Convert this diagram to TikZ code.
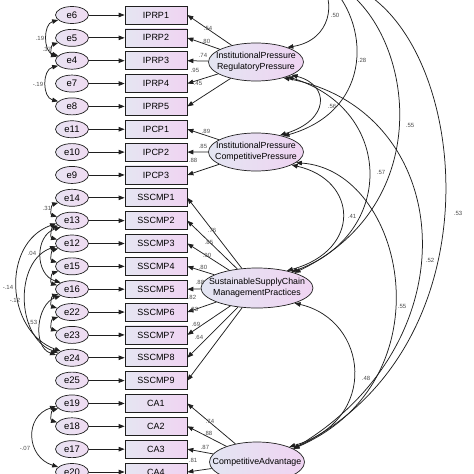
\documentclass[tikz,border=0pt]{standalone}
\usepackage{fontspec}
\setmainfont{Liberation Sans}
\usetikzlibrary{shapes.geometric,arrows.meta}
\definecolor{boxL}{rgb}{0.90,0.90,0.95}
\definecolor{boxR}{rgb}{0.94,0.83,0.95}
\definecolor{errL}{rgb}{0.91,0.89,0.95}
\definecolor{errR}{rgb}{0.94,0.86,0.95}
\definecolor{latL}{rgb}{0.89,0.90,0.95}
\definecolor{latR}{rgb}{0.94,0.83,0.95}
\definecolor{ln}{rgb}{0.12,0.12,0.12}
\definecolor{lab}{rgb}{0.30,0.30,0.30}
\tikzset{
  err/.style={ellipse, draw=ln, line width=0.7pt, minimum width=33pt, minimum height=17pt, inner sep=0pt, left color=errL, right color=errR, font=\fontsize{9.5}{10}\selectfont},
  obs/.style={rectangle, draw=ln, line width=0.7pt, minimum width=62pt, minimum height=18pt, inner sep=0pt, left color=boxL, right color=boxR, font=\fontsize{9}{10}\selectfont},
  lat/.style={ellipse, draw=ln, line width=0.7pt, inner sep=0pt, left color=latL, right color=latR},
  lattext/.style={align=center, inner sep=0pt, font=\fontsize{8.8}{11}\selectfont},
  lbl/.style={inner sep=0pt, text=lab, font=\fontsize{6}{7}\selectfont},
  arr/.style={draw=ln, line width=0.75pt, -{Triangle[length=6pt,width=4.5pt]}},
  cov/.style={draw=ln, line width=0.75pt, {Triangle[length=6pt,width=4.5pt]}-{Triangle[length=6pt,width=4.5pt]}},
}
\begin{document}
\begin{tikzpicture}[x=1pt,y=-1pt]
\useasboundingbox (0,0) rectangle (474,474);
\begin{scope}
\clip (0,0) rectangle (474,474);
% indicators and errors
\foreach \e/\b [count=\i from 0] in {e6/IPRP1,e5/IPRP2,e4/IPRP3,e7/IPRP4,e8/IPRP5,e11/IPCP1,e10/IPCP2,e9/IPCP3,e14/SSCMP1,e13/SSCMP2,e12/SSCMP3,e15/SSCMP4,e16/SSCMP5,e22/SSCMP6,e23/SSCMP7,e24/SSCMP8,e25/SSCMP9,e19/CA1,e18/CA2,e17/CA3,e20/CA4}{
  \pgfmathsetmacro\yy{15+22.85*\i}
  \node[err] (\e) at (72,\yy) {\e};
  \node[obs] (\b) at (156,\yy) {\b};
  \draw[arr] (\e) -- (\b);
}
% latents
\node[lat, minimum width=95pt, minimum height=38pt] (RP) at (256,62) {};
\node[lattext] (RPt) at (RP) {InstitutionalPressure\\RegulatoryPressure};
\node[lat, minimum width=95pt, minimum height=38pt] (CP) at (256,152) {};
\node[lattext] (CPt) at (CP) {InstitutionalPressure\\CompetitivePressure};
\node[lat, minimum width=112pt, minimum height=40pt] (SS) at (257,288) {};
\node[lattext] (SSt) at (SS) {SustainableSupplyChain\\ManagementPractices};
\node[lat, minimum width=95pt, minimum height=40pt] (CA) at (257,462) {};
\node[lattext] (CAt) at (CA) {CompetitiveAdvantage};
% loadings
\foreach \b in {IPRP1,IPRP2,IPRP3,IPRP4,IPRP5} \draw[arr] (RP) -- (\b.east);
\foreach \b in {IPCP1,IPCP2,IPCP3} \draw[arr] (CP) -- (\b.east);
\foreach \b in {SSCMP1,SSCMP2,SSCMP3,SSCMP4,SSCMP5,SSCMP6,SSCMP7,SSCMP8,SSCMP9} \draw[arr] (SS) -- (\b.east);
\foreach \b in {CA1,CA2,CA3,CA4} \draw[arr] (CA) -- (\b.east);
% loading labels
\node[lbl] (l1) at (208,28) {.54};
\node[lbl] (l2) at (206,41) {.80};
\node[lbl] (l3) at (203,55) {.74};
\node[lbl] (l4) at (195,70) {.95};
\node[lbl] (l5) at (198,83) {.45};
\node[lbl] (l6) at (206,131) {.89};
\node[lbl] (l7) at (203,146) {.85};
\node[lbl] (l8) at (193,160) {.88};
\node[lbl] (l9) at (212,230) {.76};
\node[lbl] (l10) at (209,242) {.85};
\node[lbl] (l11) at (207,255) {.90};
\node[lbl] (l12) at (203,267) {.80};
\node[lbl] (l13) at (200,282) {.88};
\node[lbl] (l14) at (192,297) {.82};
\node[lbl] (l15) at (194,309) {.83};
\node[lbl] (l16) at (196,324) {.69};
\node[lbl] (l17) at (199,337) {.64};
\node[lbl] (l18) at (210,421) {.74};
\node[lbl] (l19) at (208,433) {.88};
\node[lbl] (l20) at (205,447) {.87};
\node[lbl] (l21) at (193,460) {.81};
% latent covariances
\coordinate (tA) at (316,-22);
\coordinate (tB) at (322,-22);
\coordinate (tC) at (328,-20);
\coordinate (tD) at (332,-20);
\draw[cov] (tA) .. controls (336,0) and (332,40) .. (RP.25);
\draw[cov] (tB) .. controls (370,20) and (375,110) .. (CP.30);
\draw[cov] (RP.-20) .. controls (330,85) and (330,120) .. (CP.35);
\draw[cov] (RP.-25) .. controls (395,110) and (395,235) .. (SS.25);
\draw[cov] (CP.-20) .. controls (358,180) and (362,250) .. (SS.30);
\draw[cov] (tC) .. controls (410,20) and (445,200) .. (SS.22);
\draw[cov] (RP.-30) .. controls (455,110) and (475,340) .. (CA.20);
\draw[cov] (CP.-15) .. controls (405,170) and (450,380) .. (CA.20);
\draw[cov] (tD) .. controls (465,10) and (512,340) .. (CA.20);
\draw[cov] (SS.-22) .. controls (368,320) and (380,420) .. (CA.25);
\node[lbl] (c1) at (335,15) {.50};
\node[lbl] (c2) at (362,60) {.28};
\node[lbl] (c3) at (332,106) {.56};
\node[lbl] (c4) at (410,125) {.55};
\node[lbl] (c5) at (381,172) {.57};
\node[lbl] (c6) at (352,216) {.41};
\node[lbl] (c7) at (458,213) {.53};
\node[lbl] (c8) at (430,260) {.52};
\node[lbl] (c9) at (402,306) {.55};
\node[lbl] (c10) at (366,378) {.48};
% error covariances
\draw[cov] (e6.200) .. controls +(-15,4) and +(-15,-4) .. (e4.160);
\draw[cov] (e5.200) .. controls +(-7,2) and +(-7,-2) .. (e4.165);
\draw[cov] (e4.200) .. controls +(-16,4) and +(-16,-4) .. (e8.160);
\draw[cov] (e14.200) .. controls +(-7,2) and +(-7,-2) .. (e13.165);
\draw[cov] (e13.200) .. controls +(-7,2) and +(-7,-2) .. (e12.165);
\draw[cov] (e13.210) .. controls +(-26,8) and +(-26,-8) .. (e16.150);
\draw[cov] (e13.190) .. controls +(-55,20) and +(-55,-20) .. (e24.150);
\draw[cov] (e12.190) .. controls +(-42,15) and +(-42,-15) .. (e24.160);
\draw[cov] (e12.200) .. controls +(-7,2) and +(-7,-2) .. (e15.165);
\draw[cov] (e15.200) .. controls +(-7,2) and +(-7,-2) .. (e16.165);
\draw[cov] (e16.200) .. controls +(-7,2) and +(-7,-2) .. (e22.165);
\draw[cov] (e22.200) .. controls +(-7,2) and +(-7,-2) .. (e23.165);
\draw[cov] (e16.210) .. controls +(-24,8) and +(-24,-8) .. (e24.170);
\draw[cov] (e19.200) .. controls +(-7,2) and +(-7,-2) .. (e18.165);
\draw[cov] (e19.190) .. controls +(-32,10) and +(-32,-10) .. (e20.160);
\node[lbl] (d1) at (40,38) {.19};
\node[lbl] (d2) at (47,49) {.37};
\node[lbl] (d3) at (38,84) {-.19};
\node[lbl] (d4) at (47,208) {.31};
\node[lbl] (d5) at (32,253) {.04};
\node[lbl] (d6) at (8,287) {-.14};
\node[lbl] (d7) at (15,300) {-.12};
\node[lbl] (d8) at (33,322) {.53};
\node[lbl] (d9) at (25,448) {-.07};
\end{scope}
\end{tikzpicture}
\end{document}
